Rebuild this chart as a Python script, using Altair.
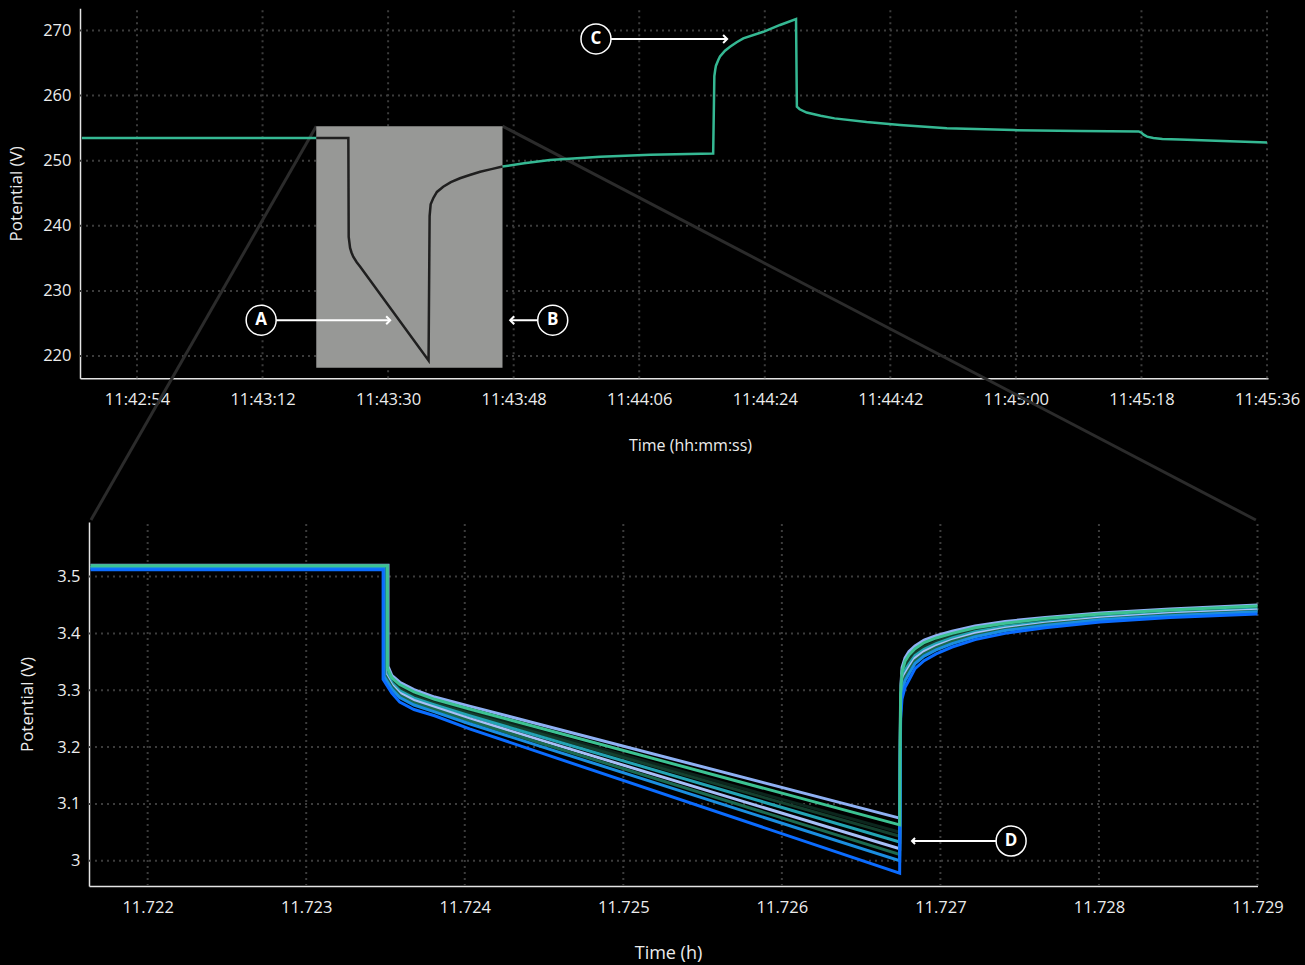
import altair as alt
import pandas as pd

W, H = 1305, 965
DAY = "2024-05-14"

# ---------------- upper panel: pack voltage ----------------
PACK_TIME = [
    "11:42:46.1", "11:43:19.7", "11:43:24.3", "11:43:24.35", "11:43:24.55", "11:43:24.75",
    "11:43:25.0", "11:43:25.5", "11:43:26.0", "11:43:35.8", "11:43:35.95", "11:43:36.1",
    "11:43:36.5", "11:43:37.0", "11:43:37.9", "11:43:39.0", "11:43:40.3", "11:43:41.7",
    "11:43:43.2", "11:43:44.8", "11:43:46.4", "11:43:49.5", "11:43:53.2", "11:44:00.4",
    "11:44:07.6", "11:44:16.6", "11:44:16.77", "11:44:16.9", "11:44:17.0", "11:44:17.35",
    "11:44:17.58", "11:44:18.3", "11:44:19.02", "11:44:19.97", "11:44:20.92", "11:44:23.79",
    "11:44:26.19", "11:44:28.48", "11:44:28.6", "11:44:29.0", "11:44:30.0", "11:44:32.0",
    "11:44:34.0", "11:44:38.6", "11:44:43.4", "11:44:50.1", "11:44:59.6", "11:45:09.2",
    "11:45:17.6", "11:45:18.0", "11:45:18.3", "11:45:18.8", "11:45:19.7", "11:45:21.0",
    "11:45:23.5", "11:45:30.7", "11:45:36.0",
]
PACK_VOLT = [
    253.5, 253.5, 253.5, 238.3, 236.6, 235.9,
    235.25, 234.4, 233.7, 219.3, 241.5, 243.3,
    244.3, 245.2, 246.0, 246.7, 247.3, 247.8,
    248.3, 248.7, 249.1, 249.6, 250.1, 250.6,
    250.9, 251.1, 263.0, 264.0, 264.6, 265.5,
    266.0, 266.9, 267.5, 268.2, 268.8, 269.8,
    270.85, 271.77, 258.3, 257.9, 257.4, 256.9,
    256.5, 255.95, 255.5, 255.0, 254.7, 254.55,
    254.5, 254.3, 254.0, 253.7, 253.5, 253.35,
    253.25, 253.0, 252.8,
]
PACK_TIME_TICKS = ["11:42:54", "11:43:12", "11:43:30", "11:43:48", "11:44:06",
                   "11:44:24", "11:44:42", "11:45:00", "11:45:18", "11:45:36"]
PACK_VOLT_TICKS = [220, 230, 240, 250, 260, 270]
PACK_TIME_RANGE = ["11:42:45.83", "11:45:36.14"]
PACK_VOLT_RANGE = [216.57, 273.41]

# window enlarged in the lower panel
ZOOM_TIME = ["11:43:19.7", "11:43:46.4"]
ZOOM_VOLT = [218.2, 255.3]
# where the guide lines from that window reach the lower panel
GUIDE_END_TIME = ["11:42:47.4", "11:45:34.4"]
GUIDE_END_VOLT = 194.8

# callouts
PACK_CALLOUT_LABEL = ["A", "B", "C"]
PACK_CALLOUT_TIME = ["11:43:11.8", "11:43:53.6", "11:43:59.8"]
PACK_CALLOUT_VOLT = [225.5, 225.5, 268.7]
PACK_CALLOUT_TIP = ["11:43:30.3", "11:43:47.5", "11:44:18.6"]
PACK_CALLOUT_DIR = ["right", "left", "right"]

# ---------------- lower panel: cell voltages ----------------
CELL_NAMES = ["Cell 01", "Cell 02", "Cell 03", "Cell 04", "Cell 05",
              "Cell 06", "Cell 07", "Cell 08", "Cell 09"]
CELL_COLORS = ["#8fb1f4", "#0c261d", "#14402f", "#22a3b3", "#a7bff8",
               "#1c6a50", "#1b8ee0", "#0b6cff", "#3cc292"]
CELL_T_START = 11.72164
CELL_DROP_T = [11.723516, 11.723508, 11.723505, 11.723502, 11.723498,
               11.723495, 11.723491, 11.723485, 11.723512]
CELL_REST_V = [3.520, 3.518, 3.517, 3.517, 3.516, 3.515, 3.514, 3.512, 3.519]
# sample times after the drop (h): knee, end of pulse, relaxation
CELL_T = [11.72354, 11.72359, 11.72368, 11.72381, 11.72403, 11.726743,
          11.726749, 11.726758, 11.726777, 11.726802, 11.726840, 11.726897,
          11.726973, 11.727074, 11.727219, 11.727408, 11.727660, 11.728008,
          11.728449, 11.729]
# per cell: bottom of the drop, then one value per CELL_T entry
CELL_V = [
    [3.342, 3.326, 3.314, 3.301, 3.288, 3.272, 3.075,
     3.300, 3.340, 3.357, 3.368, 3.378, 3.388, 3.396, 3.404, 3.413, 3.421, 3.428, 3.436, 3.443, 3.450],
    [3.336, 3.318, 3.305, 3.292, 3.279, 3.262, 3.050,
     3.287, 3.326, 3.344, 3.355, 3.368, 3.379, 3.388, 3.397, 3.407, 3.416, 3.423, 3.432, 3.439, 3.446],
    [3.334, 3.316, 3.302, 3.289, 3.277, 3.259, 3.043,
     3.284, 3.322, 3.340, 3.352, 3.365, 3.376, 3.385, 3.395, 3.405, 3.414, 3.422, 3.431, 3.438, 3.445],
    [3.332, 3.313, 3.299, 3.286, 3.274, 3.255, 3.033,
     3.278, 3.316, 3.335, 3.346, 3.361, 3.372, 3.382, 3.392, 3.403, 3.412, 3.420, 3.429, 3.436, 3.443],
    [3.329, 3.309, 3.295, 3.282, 3.270, 3.250, 3.021,
     3.272, 3.309, 3.328, 3.340, 3.356, 3.368, 3.378, 3.388, 3.400, 3.409, 3.418, 3.427, 3.435, 3.441],
    [3.327, 3.306, 3.291, 3.278, 3.266, 3.246, 3.011,
     3.267, 3.304, 3.323, 3.335, 3.352, 3.364, 3.375, 3.386, 3.397, 3.407, 3.416, 3.425, 3.433, 3.439],
    [3.324, 3.302, 3.287, 3.274, 3.262, 3.241, 3.000,
     3.261, 3.298, 3.317, 3.329, 3.347, 3.360, 3.371, 3.382, 3.394, 3.405, 3.414, 3.424, 3.431, 3.438],
    [3.319, 3.295, 3.279, 3.266, 3.255, 3.232, 2.978,
     3.250, 3.285, 3.305, 3.318, 3.338, 3.352, 3.364, 3.376, 3.389, 3.400, 3.410, 3.420, 3.428, 3.434],
    [3.339, 3.322, 3.310, 3.297, 3.284, 3.267, 3.063,
     3.294, 3.333, 3.351, 3.362, 3.373, 3.384, 3.392, 3.400, 3.410, 3.418, 3.426, 3.434, 3.441, 3.448],
]
CELL_T_TICKS = [11.722, 11.723, 11.724, 11.725, 11.726, 11.727, 11.728, 11.729]
CELL_V_TICKS = [3.0, 3.1, 3.2, 3.3, 3.4, 3.5]
CELL_T_RANGE = [11.72163, 11.729]
CELL_V_RANGE = [2.9555, 3.596]

CELL_CALLOUT_LABEL = ["D"]
CELL_CALLOUT_T = [11.727446]
CELL_CALLOUT_V = [3.0347]
CELL_CALLOUT_TIP = [11.726821]
CELL_CALLOUT_DIR = ["left"]

# ---------------- styling ----------------
GREEN = "#35b893"
GRID = "#3c3c3c"
FONT = "Open Sans"
CHEVRON = alt.Scale(domain=["right", "left"], range=["M-1,-1L0,0L-1,1", "M1,-1L0,0L1,1"])


def iso(t):
    h, m, s = t.split(":")
    return f"{DAY}T{h}:{m}:{float(s):06.3f}"


def secs(t):
    h, m, s = t.split(":")
    return int(h) * 3600 + int(m) * 60 + float(s)


def dt(t):
    h, m, s = t.split(":")
    s = float(s)
    return alt.DateTime(year=2024, month=5, date=14, hours=int(h), minutes=int(m),
                        seconds=int(s), milliseconds=int(round((s - int(s)) * 1000)))


# ---------- upper panel scales / axes ----------
px_scale = alt.Scale(domain=[dt(PACK_TIME_RANGE[0]), dt(PACK_TIME_RANGE[1])],
                     range=[80, 1268], nice=False)
py_scale = alt.Scale(domain=PACK_VOLT_RANGE, range=[378.3, 8.3], nice=False, zero=False)
px_axis = alt.Axis(orient="bottom", offset=378.3 - H, values=[dt(t) for t in PACK_TIME_TICKS],
                   format="%H:%M:%S", title="Time (hh:mm:ss)", labelPadding=13, labelFlush=False,
                   titleX=690, titleY=67, titleBaseline="middle", titleFontSize=16)
py_axis = alt.Axis(orient="left", offset=-80, values=PACK_VOLT_TICKS, format="d",
                   title="Potential (V)", labelPadding=9, labelFlush=False, titleX=-64, titleY=193.3,
                   titleAngle=270, titleBaseline="middle", titleAlign="center", titleFontSize=17)


def PX(f):
    return alt.X(f"{f}:T", scale=px_scale, axis=px_axis)


def PY(f):
    return alt.Y(f"{f}:Q", scale=py_scale, axis=py_axis)


pack = pd.DataFrame({"t": [iso(t) for t in PACK_TIME], "v": PACK_VOLT,
                     "s": [secs(t) for t in PACK_TIME], "i": range(len(PACK_TIME))})
inside = pack[(pack.s >= secs(ZOOM_TIME[0])) & (pack.s <= secs(ZOOM_TIME[1]))]

p_vgrid = pd.DataFrame({"t": [iso(t) for t in PACK_TIME_TICKS],
                        "v0": PACK_VOLT_RANGE[0], "v1": PACK_VOLT_RANGE[1]})
p_hgrid = pd.DataFrame({"v": PACK_VOLT_TICKS, "t0": iso(PACK_TIME_RANGE[0]),
                        "t1": iso(PACK_TIME_RANGE[1])})
guides = pd.DataFrame({"t0": [iso(t) for t in ZOOM_TIME], "v0": ZOOM_VOLT[1],
                       "t1": [iso(t) for t in GUIDE_END_TIME], "v1": GUIDE_END_VOLT})
window = pd.DataFrame({"t0": [iso(ZOOM_TIME[0])], "t1": [iso(ZOOM_TIME[1])],
                       "v0": [ZOOM_VOLT[0]], "v1": [ZOOM_VOLT[1]]})
p_call = pd.DataFrame({"label": PACK_CALLOUT_LABEL, "t": [iso(t) for t in PACK_CALLOUT_TIME],
                       "v": PACK_CALLOUT_VOLT, "tip": [iso(t) for t in PACK_CALLOUT_TIP],
                       "dir": PACK_CALLOUT_DIR})

upper = alt.layer(
    alt.Chart(p_vgrid).mark_rule(color=GRID, strokeWidth=2, strokeDash=[2, 4]).encode(
        x=PX("t"), y=PY("v0"), y2="v1:Q"),
    alt.Chart(p_hgrid).mark_rule(color=GRID, strokeWidth=2, strokeDash=[2, 4]).encode(
        x=PX("t0"), x2="t1:T", y=PY("v")),
    alt.Chart(guides).mark_rule(color="#2b2b2b", strokeWidth=3).encode(
        x=PX("t0"), x2="t1:T", y=PY("v0"), y2="v1:Q"),
    alt.Chart(pack).mark_line(color=GREEN, strokeWidth=2.5).encode(
        x=PX("t"), y=PY("v"), order="i:Q"),
    alt.Chart(window).mark_rect(color="#979896").encode(
        x=PX("t0"), x2="t1:T", y=PY("v0"), y2="v1:Q"),
    alt.Chart(inside).mark_line(color="#1f1f1f", strokeWidth=2.5).encode(
        x=PX("t"), y=PY("v"), order="i:Q"),
    alt.Chart(p_call).mark_rule(color="white", strokeWidth=2).encode(
        x=PX("t"), x2="tip:T", y=PY("v")),
    alt.Chart(p_call).mark_point(filled=False, stroke="white", strokeWidth=2, size=64, opacity=1).encode(
        x=PX("tip"), y=PY("v"), shape=alt.Shape("dir:N", scale=CHEVRON, legend=None)),
    alt.Chart(p_call).mark_circle(size=900, fill="black", stroke="white", strokeWidth=1.5, opacity=1).encode(
        x=PX("t"), y=PY("v")),
    alt.Chart(p_call).mark_text(font=FONT, fontWeight="bold", fontSize=17, color="white",
                                align="center", baseline="middle").encode(
        x=PX("t"), y=PY("v"), text="label:N"),
)

# ---------- lower panel scales / axes ----------
cx_scale = alt.Scale(domain=CELL_T_RANGE, range=[89, 1257.5], nice=False, zero=False)
cy_scale = alt.Scale(domain=CELL_V_RANGE, range=[886, 522], nice=False, zero=False)
cx_axis = alt.Axis(orient="bottom", offset=886 - H, values=CELL_T_TICKS, format=".3f",
                   title="Time (h)", labelPadding=13, labelFlush=False, titleX=668, titleY=67,
                   titleBaseline="middle", titleFontSize=18)
cy_axis = alt.Axis(orient="left", offset=-89, values=CELL_V_TICKS, format=".1~f",
                   title="Potential (V)", labelPadding=9, labelFlush=False, titleX=-62, titleY=704,
                   titleAngle=270, titleBaseline="middle", titleAlign="center", titleFontSize=17)


def CX(f):
    return alt.X(f"{f}:Q", scale=cx_scale, axis=cx_axis)


def CY(f):
    return alt.Y(f"{f}:Q", scale=cy_scale, axis=cy_axis)


rows = []
for name, drop, rest, vals in zip(CELL_NAMES, CELL_DROP_T, CELL_REST_V, CELL_V):
    ts = [CELL_T_START, drop, drop] + CELL_T
    vs = [rest, rest] + vals
    for i, (t, v) in enumerate(zip(ts, vs)):
        rows.append({"cell": name, "t": t, "v": v, "i": i})
cells = pd.DataFrame(rows)

c_vgrid = pd.DataFrame({"t": CELL_T_TICKS, "v0": CELL_V_RANGE[0], "v1": CELL_V_RANGE[1]})
c_hgrid = pd.DataFrame({"v": CELL_V_TICKS, "t0": CELL_T_RANGE[0], "t1": CELL_T_RANGE[1]})
c_call = pd.DataFrame({"label": CELL_CALLOUT_LABEL, "t": CELL_CALLOUT_T, "v": CELL_CALLOUT_V,
                       "tip": CELL_CALLOUT_TIP, "dir": CELL_CALLOUT_DIR})

lower = alt.layer(
    alt.Chart(c_vgrid).mark_rule(color=GRID, strokeWidth=2, strokeDash=[2, 4]).encode(
        x=CX("t"), y=CY("v0"), y2="v1:Q"),
    alt.Chart(c_hgrid).mark_rule(color=GRID, strokeWidth=2, strokeDash=[2, 4]).encode(
        x=CX("t0"), x2="t1:Q", y=CY("v")),
    alt.Chart(cells).mark_line(strokeWidth=3).encode(
        x=CX("t"), y=CY("v"), order="i:Q",
        color=alt.Color("cell:N", scale=alt.Scale(domain=CELL_NAMES, range=CELL_COLORS), legend=None)),
    alt.Chart(c_call).mark_rule(color="white", strokeWidth=2).encode(
        x=CX("t"), x2="tip:Q", y=CY("v")),
    alt.Chart(c_call).mark_point(filled=False, stroke="white", strokeWidth=2, size=36, opacity=1).encode(
        x=CX("tip"), y=CY("v"), shape=alt.Shape("dir:N", scale=CHEVRON, legend=None)),
    alt.Chart(c_call).mark_circle(size=900, fill="black", stroke="white", strokeWidth=1.5, opacity=1).encode(
        x=CX("t"), y=CY("v")),
    alt.Chart(c_call).mark_text(font=FONT, fontWeight="bold", fontSize=17, color="white",
                                align="center", baseline="middle").encode(
        x=CX("t"), y=CY("v"), text="label:N"),
)

chart = (
    alt.layer(upper, lower)
    .resolve_scale(x="independent", y="independent")
    .resolve_axis(x="independent", y="independent")
    .properties(width=W, height=H, padding=0, background="#000000",
                autosize=alt.AutoSizeParams(type="none"))
    .configure_view(strokeWidth=0)
    .configure_axis(grid=False, ticks=False, domainColor="#e4e4e4", domainWidth=1.5,
                    labelFont=FONT, labelFontSize=16.5, labelColor="#ececec",
                    titleFont=FONT, titleColor="#ececec", titleFontWeight="normal")
)

chart.save("out.html", embed_options={"renderer": "svg", "actions": False})
